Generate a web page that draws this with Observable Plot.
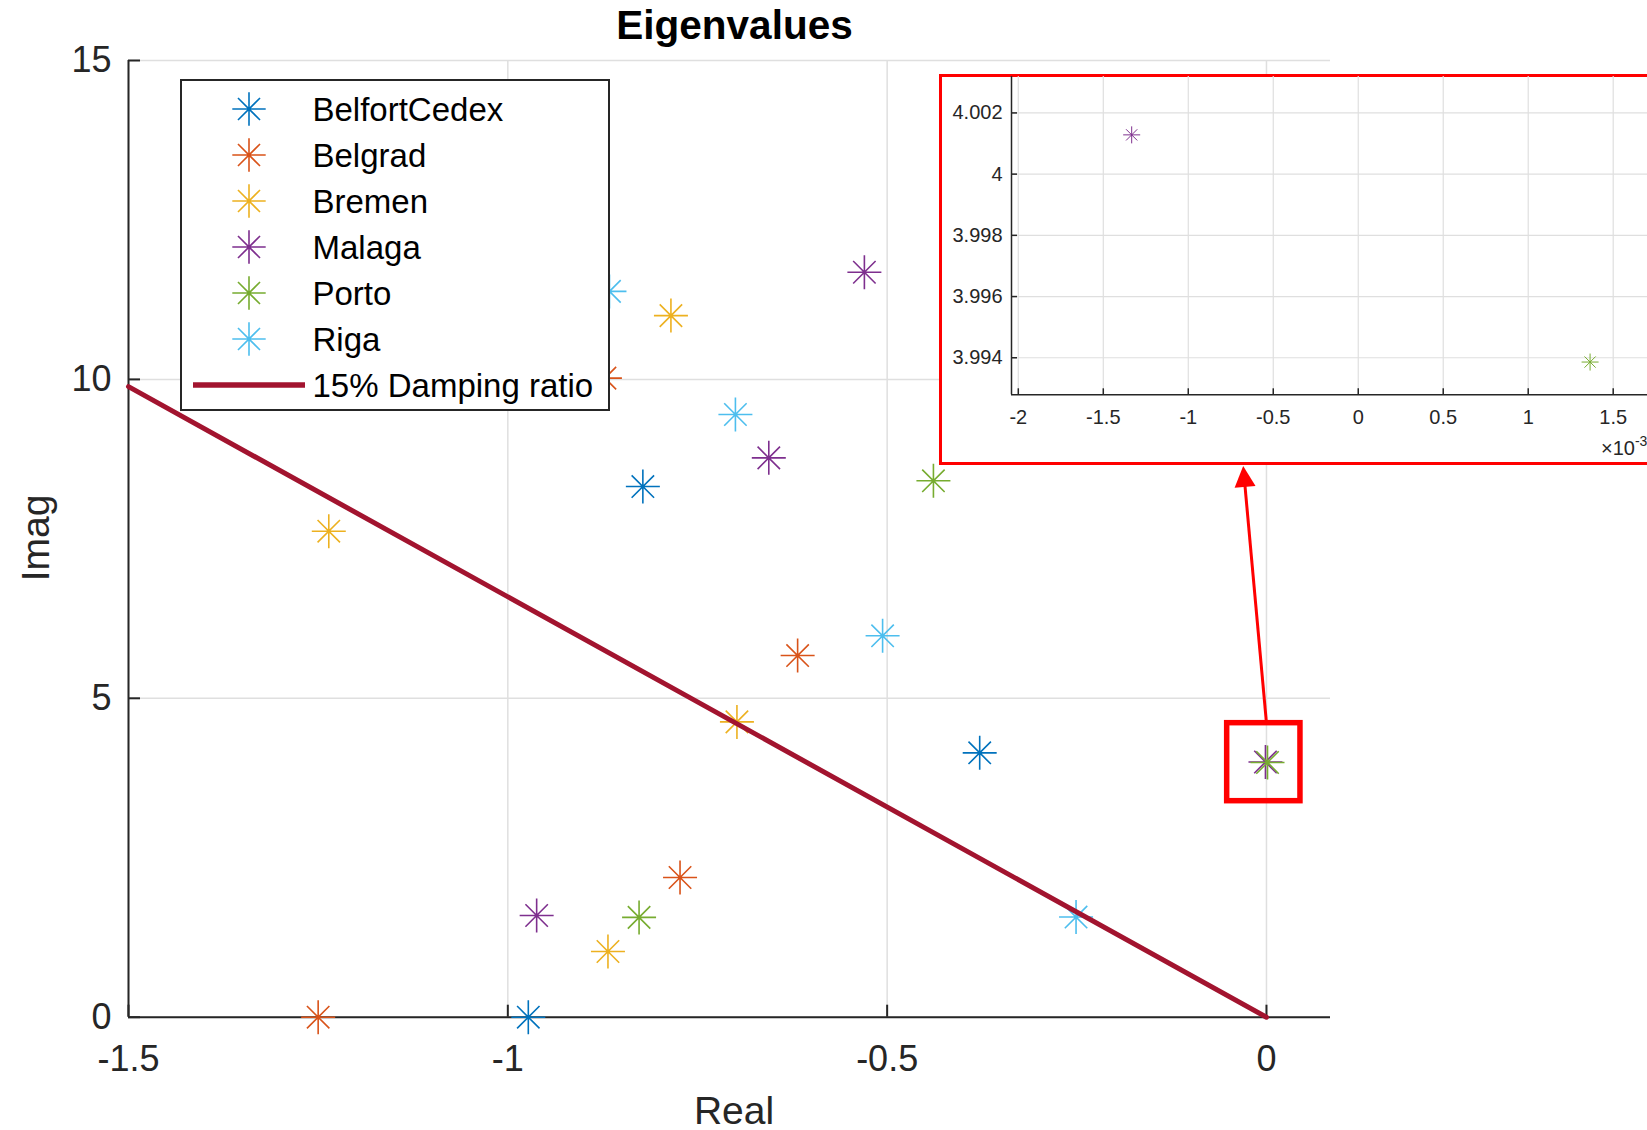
<!DOCTYPE html>
<html>
<head>
<meta charset="utf-8">
<script src="https://cdn.jsdelivr.net/npm/d3@7"></script>
<script src="https://cdn.jsdelivr.net/npm/@observablehq/plot@0.6"></script>
<style>
  html, body { margin: 0; padding: 0; background: #fff; overflow: hidden; }
  #page { position: relative; width: 1647px; height: 1130px; overflow: hidden; background: #fff;
          font-family: "Liberation Sans", Arial, Helvetica, sans-serif; color: #262626; }
  .abs { position: absolute; white-space: nowrap; line-height: 1; }
  #page svg { position: absolute; }
</style>
</head>
<body>
<div id="page"></div>
<script>
// ---------------- data ----------------
const seriesNames  = ["BelfortCedex", "Belgrad", "Bremen", "Malaga", "Porto", "Riga"];
const seriesColors = ["#0072BD", "#D95319", "#EDB120", "#7E2F8E", "#77AC30", "#4DBEEE"];

const belfortReal = [-0.822, -0.378, -0.973];
const belfortImag = [8.32, 4.145, 0];
const belgradReal = [-1.250, -0.773, -0.618, -0.872];
const belgradImag = [0, 2.19, 5.67, 10.02];
const bremenReal  = [-1.236, -0.785, -0.698, -0.868];
const bremenImag  = [7.62, 11.00, 4.63, 1.03];
const malagaReal  = [-0.530, -0.656, -0.962, -0.001333];
const malagaImag  = [11.68, 8.77, 1.595, 4.001283];
const portoReal   = [-0.439, -0.827, 0.001364];
const portoImag   = [8.41, 1.565, 3.99386];
const rigaReal    = [-0.866, -0.700, -0.506, -0.251];
const rigaImag    = [11.38, 9.45, 5.98, 1.57];

const dampingRatio = 0.15;
const dampingLabel = "15% Damping ratio";
const dampingReal = [-1.5, 0];
const dampingColor = "#A2142F";

const xTicks = [-1.5, -1, -0.5, 0];
const yTicks = [0, 5, 10, 15];
const xDomain = [-1.5, 0.0844];
const yDomain = [0, 15];

const insetXTicks = [-0.002, -0.0015, -0.001, -0.0005, 0, 0.0005, 0.001, 0.0015];
const insetYTicks = [3.994, 3.996, 3.998, 4, 4.002];
const insetXDomain = [-0.00204, 0.00184];
const insetYDomain = [3.99279, 4.00319];

// annotation: zoom box around (0, 4) and arrow to the inset
const zoomBoxReal = [-0.0518, 0.0448];
const zoomBoxImag = [3.387, 4.61];
const arrowReal = [0, -0.0307];
const arrowImag = [4.61, 8.642];

// ---------------- tables ----------------
const seriesReal = [belfortReal, belgradReal, bremenReal, malagaReal, portoReal, rigaReal];
const seriesImag = [belfortImag, belgradImag, bremenImag, malagaImag, portoImag, rigaImag];
const points = [];
seriesNames.forEach((name, i) => {
  seriesReal[i].forEach((re, j) => points.push({series: name, re, im: seriesImag[i][j]}));
});
const dampSlope = Math.sqrt(1 - dampingRatio * dampingRatio) / dampingRatio;
const damping = dampingReal.map(re => ({re, im: -re * dampSlope}));

// ---------------- styling ----------------
const AX = "#262626";
const GRID = "#dfdfdf";
const RED = "#FF0000";
const FONT = '"Liberation Sans", Arial, Helvetica, sans-serif';

// MATLAB-like '*' marker: plus + cross
const asterisk = {
  draw(ctx, size) {
    const r = Math.sqrt(size / Math.PI);
    const d = r * 0.66;
    ctx.moveTo(0, -r); ctx.lineTo(0, r);
    ctx.moveTo(-r, 0); ctx.lineTo(r, 0);
    ctx.moveTo(-d, -d); ctx.lineTo(d, d);
    ctx.moveTo(-d, d); ctx.lineTo(d, -d);
  }
};

// ---------------- main plot ----------------
const W = 1647, H = 1130;
const mL = 128, mR = W - 1330, mT = 60, mB = H - 1016.7;
const innerW = W - mL - mR, innerH = H - mT - mB;
const pxX = innerW / (xDomain[1] - xDomain[0]);
const pxY = innerH / (yDomain[1] - yDomain[0]);

// arrow geometry (screen direction)
const adx = (arrowReal[1] - arrowReal[0]) * pxX;
const ady = -(arrowImag[1] - arrowImag[0]) * pxY;
const ang = Math.atan2(ady, adx);
const headLen = 21, headHalf = 10.5;
const cA = Math.cos(ang), sA = Math.sin(ang);
const arrowHead = {
  draw(ctx) {
    const bx = -headLen * cA, by = -headLen * sA;
    const px = -sA * headHalf, py = cA * headHalf;
    ctx.moveTo(0, 0); ctx.lineTo(bx + px, by + py); ctx.lineTo(bx - px, by - py); ctx.closePath();
  }
};
const shaftBack = headLen - 3;
const arrowShaft = [{
  x1: arrowReal[0], y1: arrowImag[0],
  x2: arrowReal[1] - shaftBack * cA / pxX,
  y2: arrowImag[1] + shaftBack * sA / pxY
}];
const arrowTip = [{x: arrowReal[1], y: arrowImag[1]}];
const zoomBox = [{x1: zoomBoxReal[0], x2: zoomBoxReal[1], y1: zoomBoxImag[0], y2: zoomBoxImag[1]}];

const fmt = d => String(d);

const main = Plot.plot({
  width: W, height: H,
  marginLeft: mL, marginRight: mR, marginTop: mT, marginBottom: mB,
  style: {fontFamily: FONT, fontSize: "36px", color: AX, background: "transparent", overflow: "visible"},
  x: {domain: xDomain, ticks: xTicks, tickSize: 0, tickPadding: 28, tickFormat: fmt, label: null},
  y: {domain: yDomain, ticks: yTicks, tickSize: 0, tickPadding: 17, tickFormat: fmt, label: null},
  color: {domain: seriesNames, range: seriesColors},
  marks: [
    Plot.ruleX(xTicks, {stroke: GRID, strokeWidth: 1.5}),
    Plot.ruleY(yTicks, {stroke: GRID, strokeWidth: 1.5}),
    Plot.ruleX([xDomain[0]], {stroke: AX, strokeWidth: 2}),
    Plot.ruleY([yDomain[0]], {stroke: AX, strokeWidth: 2}),
    Plot.ruleX(xTicks, {stroke: AX, strokeWidth: 2, insetTop: innerH - 12}),
    Plot.ruleY(yTicks, {stroke: AX, strokeWidth: 2, insetRight: innerW - 12}),
    Plot.dot(points, {x: "re", y: "im", stroke: "series", fill: "none", symbol: asterisk, r: 17, strokeWidth: 1.6}),
    Plot.line(damping, {x: "re", y: "im", stroke: dampingColor, strokeWidth: 5}),
    Plot.rect(zoomBox, {x1: "x1", x2: "x2", y1: "y1", y2: "y2", fill: "none", stroke: RED, strokeWidth: 5.5}),
    Plot.link(arrowShaft, {x1: "x1", y1: "y1", x2: "x2", y2: "y2", stroke: RED, strokeWidth: 3}),
    Plot.dot(arrowTip, {x: "x", y: "y", symbol: arrowHead, fill: RED, stroke: "none", r: 10})
  ]
});
main.style.left = "0px"; main.style.top = "0px";

const page = document.getElementById("page");
page.appendChild(main);

// ---------------- title & axis labels ----------------
function addText(txt, css) {
  const d = document.createElement("div");
  d.className = "abs";
  d.textContent = txt;
  Object.assign(d.style, css);
  page.appendChild(d);
  return d;
}
addText("Eigenvalues", {left: "734.5px", top: "25px", transform: "translate(-50%,-50%)",
  fontSize: "40.5px", fontWeight: "bold", color: "#000"});
addText("Real", {left: "734px", top: "1110px", transform: "translate(-50%,-50%)", fontSize: "39px"});
addText("Imag", {left: "35px", top: "538px", transform: "translate(-50%,-50%) rotate(-90deg)", fontSize: "39px"});

// ---------------- legend ----------------
const legend = document.createElement("div");
legend.className = "abs";
Object.assign(legend.style, {left: "179.5px", top: "79px", width: "430.5px", height: "331.7px",
  border: "2px solid " + AX, background: "#fff", boxSizing: "border-box"});
page.appendChild(legend);
const legendX0 = 179.5, legendY0 = 79;
const rowY0 = 106.7, rowStep = 46;
const NS = "http://www.w3.org/2000/svg";
function legendMarker(color, cx, cy) {
  const s = document.createElementNS(NS, "svg");
  s.setAttribute("width", 40); s.setAttribute("height", 40);
  s.style.position = "absolute";
  s.style.left = (cx - 20 - legendX0) + "px";
  s.style.top = (cy - 20 - legendY0) + "px";
  const p = document.createElementNS(NS, "path");
  const r = 16.7, d = r * 0.66;
  p.setAttribute("d", `M20,${20 - r}L20,${20 + r}M${20 - r},20L${20 + r},20M${20 - d},${20 - d}L${20 + d},${20 + d}M${20 - d},${20 + d}L${20 + d},${20 - d}`);
  p.setAttribute("stroke", color); p.setAttribute("stroke-width", 1.6); p.setAttribute("fill", "none");
  s.appendChild(p);
  legend.appendChild(s);
}
function legendText(txt, cy) {
  const t = document.createElement("div");
  t.className = "abs";
  t.textContent = txt;
  Object.assign(t.style, {left: (310.5 - legendX0) + "px", top: (cy + 0.5 - legendY0) + "px",
    transform: "translateY(-50%)", fontSize: "33px", color: "#000"});
  legend.appendChild(t);
}
seriesNames.forEach((name, i) => {
  const cy = rowY0 + i * rowStep;
  legendMarker(seriesColors[i], 246.7, cy);
  legendText(name, cy);
});
{
  const cy = rowY0 + seriesNames.length * rowStep;
  const s = document.createElementNS(NS, "svg");
  s.setAttribute("width", 120); s.setAttribute("height", 12);
  s.style.position = "absolute";
  s.style.left = (190.7 - legendX0) + "px";
  s.style.top = (cy - 6 - legendY0) + "px";
  const l = document.createElementNS(NS, "line");
  l.setAttribute("x1", 0); l.setAttribute("x2", 112); l.setAttribute("y1", 6); l.setAttribute("y2", 6);
  l.setAttribute("stroke", dampingColor); l.setAttribute("stroke-width", 5.5);
  s.appendChild(l);
  legend.appendChild(s);
  legendText(dampingLabel, cy);
}

// ---------------- inset ----------------
const insetBox = document.createElement("div");
insetBox.className = "abs";
Object.assign(insetBox.style, {left: "938.5px", top: "73.7px", width: "820px", height: "391px",
  border: "3px solid " + RED, background: "#fff", boxSizing: "border-box"});
page.appendChild(insetBox);

const iLeft = 941.5, iTop = 76;
const iW = 1670 - iLeft, iH = 461.8 - iTop;
const imL = 1010.5 - iLeft, imT = 0, imB = 461.8 - 394.3, imR = 0;
const iInnerW = iW - imL - imR, iInnerH = iH - imT - imB;
const insetPoints = points.filter(p => p.re >= insetXDomain[0] && p.re <= insetXDomain[1] &&
                                       p.im >= insetYDomain[0] && p.im <= insetYDomain[1]);
const inset = Plot.plot({
  width: iW, height: iH,
  marginLeft: imL, marginRight: imR, marginTop: imT, marginBottom: imB,
  style: {fontFamily: FONT, fontSize: "20px", color: AX, background: "transparent", overflow: "visible"},
  x: {domain: insetXDomain, ticks: insetXTicks, tickSize: 0, tickPadding: 15,
      tickFormat: d => String(Math.round(d * 1e4) / 10), label: null},
  y: {domain: insetYDomain, ticks: insetYTicks, tickSize: 0, tickPadding: 9,
      tickFormat: d => String(Math.round(d * 1000) / 1000), label: null},
  color: {domain: seriesNames, range: seriesColors},
  marks: [
    Plot.ruleX(insetXTicks, {stroke: GRID, strokeWidth: 1.2}),
    Plot.ruleY(insetYTicks, {stroke: GRID, strokeWidth: 1.2}),
    Plot.ruleX([insetXDomain[0]], {stroke: AX, strokeWidth: 1.5}),
    Plot.ruleY([insetYDomain[0]], {stroke: AX, strokeWidth: 1.5}),
    Plot.ruleX(insetXTicks, {stroke: AX, strokeWidth: 1.5, insetTop: iInnerH - 6}),
    Plot.ruleY(insetYTicks, {stroke: AX, strokeWidth: 1.5, insetRight: iInnerW - 6}),
    Plot.dot(insetPoints, {x: "re", y: "im", stroke: "series", fill: "none", symbol: asterisk, r: 8.5, strokeWidth: 1})
  ]
});
inset.style.left = iLeft + "px"; inset.style.top = iTop + "px";
page.appendChild(inset);

// exponent label of inset x axis (cut by the figure edge as in the source)
const expo = document.createElement("div");
expo.className = "abs";
Object.assign(expo.style, {left: "1601px", top: "448px", transform: "translateY(-50%)", fontSize: "20px", color: AX});
expo.innerHTML = '\u00d710<span style="font-size:14px;position:relative;top:-9px;">-3</span>';
page.appendChild(expo);
</script>
</body>
</html>
